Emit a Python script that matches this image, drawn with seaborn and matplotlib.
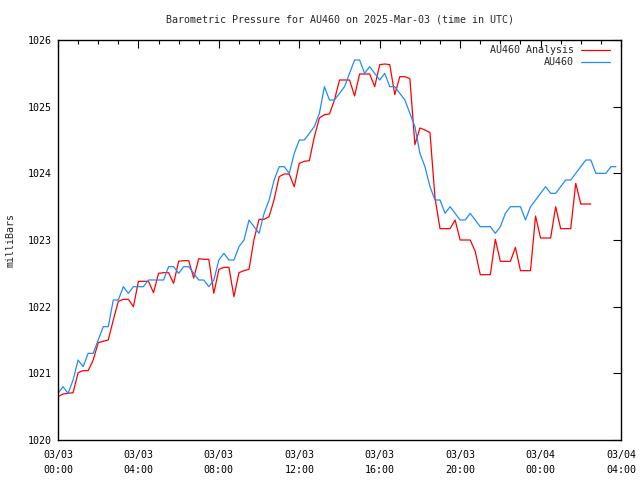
import numpy as np
import pandas as pd
import matplotlib
matplotlib.use("Agg")
import matplotlib.pyplot as plt
import matplotlib.dates as mdates
import seaborn as sns

# ---- data (15-minute samples, UTC) ----
start_time = "2025-03-03 00:00"

obs_values = [
    1020.7, 1020.8, 1020.7, 1020.9, 1021.2, 1021.1, 1021.3, 1021.3,
    1021.5, 1021.7, 1021.7, 1022.1, 1022.1, 1022.3, 1022.2, 1022.3,
    1022.3, 1022.3, 1022.4, 1022.4, 1022.4, 1022.4, 1022.6, 1022.6,
    1022.5, 1022.6, 1022.6, 1022.5, 1022.4, 1022.4, 1022.3, 1022.4,
    1022.7, 1022.8, 1022.7, 1022.7, 1022.9, 1023.0, 1023.3, 1023.2,
    1023.1, 1023.4, 1023.6, 1023.9, 1024.1, 1024.1, 1024.0, 1024.3,
    1024.5, 1024.5, 1024.6, 1024.7, 1024.9, 1025.3, 1025.1, 1025.1,
    1025.2, 1025.3, 1025.5, 1025.7, 1025.7, 1025.5, 1025.6, 1025.5,
    1025.4, 1025.5, 1025.3, 1025.3, 1025.2, 1025.1, 1024.9, 1024.7,
    1024.3, 1024.1, 1023.8, 1023.6, 1023.6, 1023.4, 1023.5, 1023.4,
    1023.3, 1023.3, 1023.4, 1023.3, 1023.2, 1023.2, 1023.2, 1023.1,
    1023.2, 1023.4, 1023.5, 1023.5, 1023.5, 1023.3, 1023.5, 1023.6,
    1023.7, 1023.8, 1023.7, 1023.7, 1023.8, 1023.9, 1023.9, 1024.0,
    1024.1, 1024.2, 1024.2, 1024.0, 1024.0, 1024.0, 1024.1, 1024.1,
]

analysis_values = [
    1020.65, 1020.69, 1020.70, 1020.71, 1021.01, 1021.04, 1021.04, 1021.20,
    1021.46, 1021.48, 1021.50, 1021.80, 1022.08, 1022.11, 1022.11, 1022.00,
    1022.38, 1022.38, 1022.38, 1022.21, 1022.50, 1022.51, 1022.51, 1022.35,
    1022.68, 1022.69, 1022.69, 1022.43, 1022.72, 1022.71, 1022.71, 1022.20,
    1022.56, 1022.59, 1022.59, 1022.15, 1022.51, 1022.54, 1022.56, 1023.01,
    1023.31, 1023.31, 1023.35, 1023.61, 1023.95, 1023.99, 1023.99, 1023.80,
    1024.15, 1024.18, 1024.19, 1024.55, 1024.83, 1024.88, 1024.89, 1025.10,
    1025.40, 1025.40, 1025.40, 1025.16, 1025.49, 1025.49, 1025.49, 1025.30,
    1025.63, 1025.64, 1025.63, 1025.18, 1025.45, 1025.45, 1025.42, 1024.43,
    1024.68, 1024.65, 1024.61, 1023.63, 1023.17, 1023.17, 1023.17, 1023.30,
    1023.00, 1023.00, 1023.00, 1022.83, 1022.48, 1022.48, 1022.48, 1023.01,
    1022.68, 1022.68, 1022.68, 1022.89, 1022.54, 1022.54, 1022.54, 1023.36,
    1023.03, 1023.03, 1023.03, 1023.50, 1023.17, 1023.17, 1023.17, 1023.85,
    1023.54, 1023.54, 1023.54,
]

series_names = ["AU460 Analysis", "AU460"]
series_colors = ["#ff0000", "#1e8cff"]
y_ticks = [1020, 1021, 1022, 1023, 1024, 1025, 1026]
title = "Barometric Pressure for AU460 on 2025-Mar-03 (time in UTC)"
y_label = "milliBars"

t_obs = pd.date_range(start_time, periods=len(obs_values), freq="15min")
t_ana = pd.date_range(start_time, periods=len(analysis_values), freq="15min")

df = pd.concat([
    pd.DataFrame({"time": t_ana, "pressure": analysis_values, "series": series_names[0]}),
    pd.DataFrame({"time": t_obs, "pressure": obs_values, "series": series_names[1]}),
], ignore_index=True)

# ---- style ----
FS = 7.2
sns.set_theme(style="white")
plt.rcParams["font.family"] = ["DejaVu Sans Mono"]
plt.rcParams.update({
    "xtick.direction": "in", "ytick.direction": "in",
    "xtick.top": True, "ytick.right": True,
    "axes.edgecolor": "black", "axes.linewidth": 1.0,
    "xtick.color": "black", "ytick.color": "black",
    "xtick.major.size": 6, "ytick.major.size": 6,
    "xtick.minor.size": 3, "ytick.minor.size": 3,
    "xtick.major.width": 0.8, "ytick.major.width": 0.8,
    "xtick.minor.width": 0.8,
})

fig = plt.figure(figsize=(6.4, 4.8), dpi=100)
ax = fig.add_axes([58 / 640, 1 - 440 / 480, (621 - 58) / 640, (440 - 40) / 480])

sns.lineplot(data=df, x="time", y="pressure", hue="series",
             palette=dict(zip(series_names, series_colors)),
             linewidth=0.9, ax=ax, legend=False)

ax.set_xlim(pd.Timestamp("2025-03-03 00:00"), pd.Timestamp("2025-03-04 04:00"))
ax.set_ylim(y_ticks[0], y_ticks[-1])
ax.set_yticks(y_ticks)
ax.set_yticklabels([str(v) for v in y_ticks], fontsize=FS)
ax.xaxis.set_major_locator(mdates.HourLocator(byhour=range(0, 24, 4)))
ax.xaxis.set_minor_locator(mdates.HourLocator())
ax.xaxis.set_major_formatter(mdates.DateFormatter("%m/%d\n%H:%M"))
ax.tick_params(axis="x", labelsize=FS, pad=7)
ax.tick_params(axis="y", labelsize=FS, pad=4.5)
for lab in ax.get_xticklabels():
    lab.set_linespacing(1.7)

ax.set_xlabel("")
ax.set_ylabel("")
fig.text(11 / 640, 1 - 240 / 480, y_label, rotation=90, ha="center", va="center", fontsize=FS)
fig.text(340 / 640, 1 - 19 / 480, title, ha="center", va="center", fontsize=FS)

handles = [plt.Line2D([], [], color=c, lw=0.9) for c in series_colors]
ax.legend(handles, series_names, loc="upper right", frameon=False,
          markerfirst=False, fontsize=FS, handlelength=2.9, handletextpad=0.7,
          labelspacing=0.2, borderpad=0, borderaxespad=0,
          bbox_to_anchor=(610 / 640, 1 - 45 / 480), bbox_transform=fig.transFigure)

fig.savefig("out.png", dpi=100)
